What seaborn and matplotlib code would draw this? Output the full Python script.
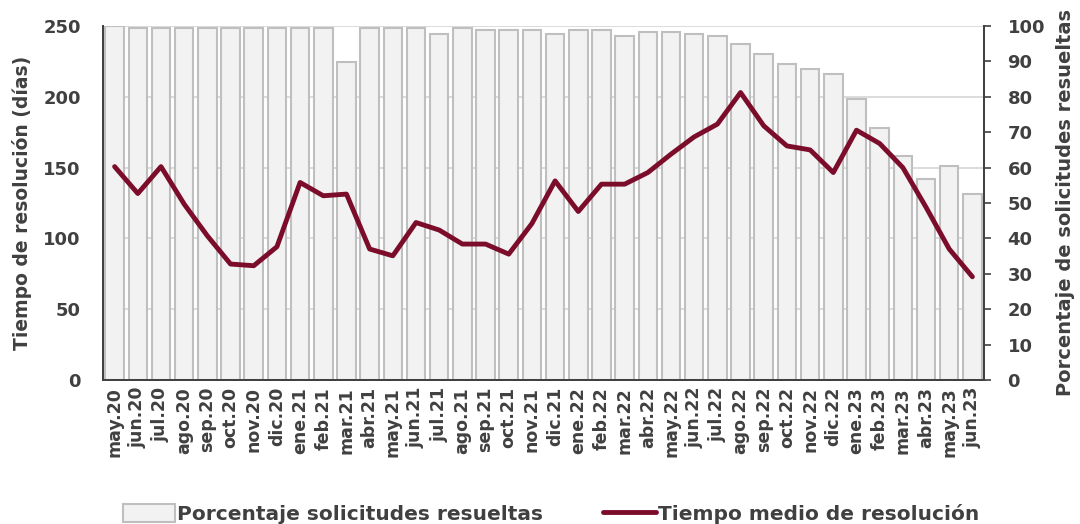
import numpy as np
import pandas as pd
import seaborn as sns
import matplotlib.pyplot as plt
from matplotlib.patches import Patch
from matplotlib.lines import Line2D

# datos
meses = ['may.20', 'jun.20', 'jul.20', 'ago.20', 'sep.20', 'oct.20', 'nov.20', 'dic.20',
         'ene.21', 'feb.21', 'mar.21', 'abr.21', 'may.21', 'jun.21', 'jul.21', 'ago.21',
         'sep.21', 'oct.21', 'nov.21', 'dic.21', 'ene.22', 'feb.22', 'mar.22', 'abr.22',
         'may.22', 'jun.22', 'jul.22', 'ago.22', 'sep.22', 'oct.22', 'nov.22', 'dic.22',
         'ene.23', 'feb.23', 'mar.23', 'abr.23', 'may.23', 'jun.23']

porcentaje = [100, 99.4, 99.4, 99.4, 99.4, 99.4, 99.4, 99.4,
              99.4, 99.4, 89.8, 99.4, 99.4, 99.4, 97.8, 99.4,
              98.8, 98.8, 98.8, 97.8, 98.8, 98.8, 97.2, 98.2,
              98.2, 97.7, 97.2, 94.8, 92.0, 89.2, 87.9, 86.4,
              79.5, 71.1, 63.2, 56.9, 60.4, 52.5]

tiempo = [150.7, 131.7, 150.7, 124.2, 101.8, 81.9, 80.7, 94.1,
          139.5, 130.1, 131.3, 92.5, 87.7, 111.2, 105.9, 96.0,
          96.0, 88.9, 110.5, 140.6, 119.0, 138.3, 138.3, 146.5,
          159.5, 171.7, 180.7, 203.0, 179.5, 165.3, 162.5, 146.5,
          176.4, 167.0, 150.0, 122.0, 92.5, 72.9]

df = pd.DataFrame({'Mes': meses, 'Porcentaje': porcentaje, 'Tiempo': tiempo})
df['pos'] = np.arange(len(df))

sns.set_theme(style="white")
plt.rcParams['font.family'] = ['DejaVu Sans']
plt.rcParams['font.weight'] = 'bold'
gris = '#404040'
granate = '#7b0d2b'

fig = plt.figure(figsize=(10.8, 5.24), dpi=100)
axb = fig.add_axes([0.0954, 0.2748, 0.8157, 0.6756])
axl = axb.twinx()

# barras (eje derecho)
for v in range(20, 101, 20):
    axb.axhline(v, color='#d9d9d9', linewidth=1.3, zorder=0)
sns.barplot(data=df, x='Mes', y='Porcentaje', ax=axb, color='#f2f2f2',
            edgecolor='#bfbfbf', linewidth=1.5, width=0.8, saturation=1, zorder=2)
axb.set_ylim(0, 100)
axb.set_xlim(-0.5, len(meses) - 0.5)
axb.yaxis.tick_right()
axb.yaxis.set_label_position('right')
axb.set_yticks(range(0, 101, 10))
axb.set_ylabel('Porcentaje de solicitudes resueltas', fontsize=14, color=gris,
               fontweight='bold', labelpad=8)
axb.set_xlabel('')

# linea (eje izquierdo)
sns.lineplot(data=df, x='pos', y='Tiempo', ax=axl, color=granate, linewidth=3.5,
             sort=False, zorder=3)
axl.set_ylim(0, 250)
axl.yaxis.tick_left()
axl.yaxis.set_label_position('left')
axl.set_yticks(range(0, 251, 50))
axl.set_ylabel('Tiempo de resolución (días)', fontsize=13.5, color=gris,
               fontweight='bold', labelpad=8)
axl.set_xlabel('')
axl.set_xlim(-0.5, len(meses) - 0.5)

# ejes y ticks
for ax in (axb, axl):
    ax.spines['top'].set_visible(False)
    for s in ('left', 'right', 'bottom'):
        ax.spines[s].set_color(gris)
        ax.spines[s].set_linewidth(1.3)

axb.set_xticks(np.arange(len(meses)))
axb.set_xticklabels(meses, rotation=90, fontsize=12.5, color=gris, fontweight='bold')
axb.set_xticks(np.arange(len(meses) + 1) - 0.5, minor=True)
axb.tick_params(axis='x', which='major', length=0, pad=5)
axb.tick_params(axis='x', which='minor', length=6, width=1.2, color=gris, direction='out')
axb.tick_params(axis='y', which='major', length=5, width=1.2, color=gris, pad=12,
                labelsize=13, labelcolor=gris, direction='out', right=True, left=False)
axl.tick_params(axis='y', length=0, labelsize=13, labelcolor=gris, pad=16)
axl.tick_params(axis='x', which='both', bottom=False, labelbottom=False)
for t in axb.get_yticklabels() + axl.get_yticklabels():
    t.set_fontweight('bold')

# leyenda
handles = [Patch(facecolor='#f2f2f2', edgecolor='#bfbfbf', linewidth=1.5),
           Line2D([0], [0], color=granate, linewidth=3.5)]
labels = ['Porcentaje solicitudes resueltas', 'Tiempo medio de resolución']
leg = fig.legend(handles, labels, loc='center', bbox_to_anchor=(0.51, 0.02), ncol=2,
                 frameon=False, fontsize=14.5, handlelength=2.6, handletextpad=0.1,
                 columnspacing=3.0, handleheight=1.0)
for t in leg.get_texts():
    t.set_color(gris)
    t.set_fontweight('bold')

fig.savefig('out.png', dpi=100)
